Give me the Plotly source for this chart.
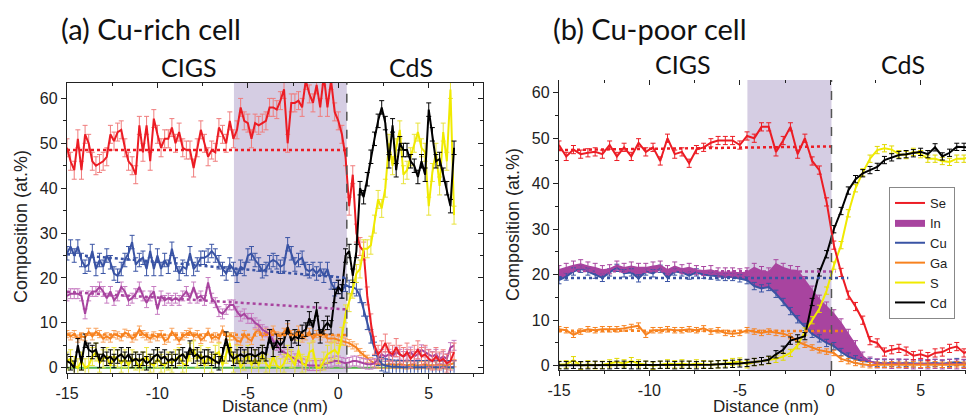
import numpy as np
import plotly.graph_objects as go

# ---------------- Panel (a): Cu-rich cell (0.2 nm steps, -15 .. 6.4 nm) ----------------
x_a = np.round(np.arange(108) * 0.2 - 15, 2)

se_a = [49, 46, 44, 51, 44, 52, 50, 46, 45, 45.5,
        46, 47, 52, 50.5, 52.5, 53, 49, 46, 45, 43,
        54, 48, 54, 46, 55.5, 52, 49, 51, 51, 53.5,
        50, 52.5, 49, 48.5, 48.5, 44.5, 49, 53, 50, 47,
        48.5, 48, 53.5, 52, 50, 55, 51, 53, 58, 55,
        54.5, 51, 54.5, 54, 54.5, 55, 58, 58, 57.5, 59.5,
        62, 50, 59, 59, 59.5, 58, 64, 61, 59, 63,
        58, 65, 58, 64, 57, 55, 52, 47, 36, 43,
        30, 27, 26, 16, 10, 5, 3, 4, 5.5, 3.5,
        3, 4.5, 3, 2.5, 3.5, 2, 3, 4, 2.5, 3,
        2, 1.5, 2.5, 1.5, 2, 1, 1.5, 3.5]

cu_a = [25.5, 27, 25, 27, 24, 22.5, 23, 26, 22, 24,
        22.5, 25, 23.5, 21, 20.5, 22, 24, 25.5, 28, 23,
        24, 24.5, 22, 26, 22, 25, 22, 24, 22.5, 26.5,
        23, 21, 22.5, 22, 25.5, 22, 23, 24.5, 24.5, 25,
        26, 25, 23.5, 22, 21, 23, 22, 20.5, 22.5, 22,
        25, 25.5, 24, 23, 21.5, 22, 23.5, 24, 23.5, 22.5,
        23, 27.5, 25.5, 23, 24, 24.5, 22, 21.5, 22, 21,
        22, 20.5, 22, 19, 17.5, 18, 17, 18.5, 18, 18,
        17.5, 16, 13, 10, 7, 4.2, 2, 0.8, 0.5, 0.3,
        0.2, 0.2, 0.1, 0.1, 0.1, 0.1, 0.1, 0.1, 0.1, 0.1,
        0.1, 0.1, 0.1, 0.1, 0.1, 0.1, 0.1, 0.1]

in_a = [16, 16.5, 16.5, 16.5, 16, 12, 16, 17, 17, 18,
        17, 15.5, 17, 15, 16, 18, 17, 15, 15.5, 16.5,
        18, 16, 14.5, 16, 17, 13, 16, 15, 15.5, 15,
        15.5, 15, 16, 17, 15.5, 18, 15.5, 16, 15, 19,
        15.5, 14.5, 12.5, 12, 13, 14, 14, 12.5, 11.5, 12,
        11, 11, 10, 9.5, 8.5, 8, 7.5, 6, 5, 4,
        3.5, 3, 2.5, 2, 1.5, 1, 0.7, 0.5, 0.5, 0.5,
        0.5, 0.8, 1, 1.2, 1.5, 1.5, 1.2, 1, 1.2, 1.5,
        1.5, 1.2, 1, 0.8, 0.8, 1, 2, 3, 2.5, 3,
        2.5, 3.5, 3, 2.5, 3, 3.5, 2.5, 3, 4, 3.5,
        3, 2.5, 3, 2, 2.5, 2, 4.5, 5]

ga_a = [7.5, 7, 7.5, 6.5, 7, 6.8, 8, 7, 8, 7.5,
        6.5, 7, 6.5, 7.5, 7.2, 6.8, 7.8, 7.5, 6.5, 7,
        8.5, 7.5, 7, 6.5, 7.2, 6.8, 7.5, 6, 6.5, 8,
        7, 6, 7, 7.5, 8, 7, 7.5, 6.2, 6.8, 8,
        6.5, 7, 6.5, 8.5, 7, 7, 7, 6, 5.8, 7.5,
        6.5, 6, 7.8, 8.5, 7, 8, 7.5, 8.5, 7.2, 7,
        8, 9, 7.5, 7, 8.5, 6.5, 7, 8, 6.5, 7.5,
        7, 7.5, 6.5, 6.5, 6.5, 6.2, 6, 5.8, 5.5, 5,
        4.5, 3.5, 2.8, 2, 1.5, 1, 0.7, 0.7, 0.6, 0.8,
        0.7, 0.6, 0.8, 0.6, 0.5, 0.7, 0.6, 0.5, 0.6, 0.7,
        0.5, 0.6, 0.5, 0.7, 0.6, 0.5, 0.8, 1]

s_a = [1.5, 2, 0.5, 0, 1.5, 0, 0.5, 2.5, 3.5, 1,
       2, 2.5, 0.5, 2.5, 2, 1, 2, 0.5, 2, 1.5,
       0, 1.5, 2.5, 1, 0.5, 2, 1, 0.5, 1.5, 1,
       2, 2.5, 1, 0.5, 3.5, 4, 2, 3, 0.5, 2.5,
       1, 3, 3.5, 0.5, 3, 5.5, 1, 3, 0, 1.5,
       3, 0.5, 2, 0.5, 3, 1, 0, 2.5, 0.5, 0,
       1, 3, 2, 0.5, 4, 1, 0.5, 3.5, 4, 0,
       0, 1.5, 3, 3.5, 4, 3, 7, 12, 14.5, 17.5,
       21, 22, 26.5, 26.5, 27.3, 32, 37.5, 35.5, 40, 50,
       45, 49, 53, 43, 44, 47, 50, 52.5, 49, 48,
       36, 43.5, 48, 40.5, 52.5, 46, 62, 34]

cd_a = [1.5, 1, 0, 5, 1, 6, 4, 3.5, 4, 1.5,
        3, 2, 2.5, 1.5, 2.5, 3, 2, 3, 1.5, 2,
        1.5, 2, 1, 1.5, 2.5, 3, 2, 2.5, 1.5, 2,
        1.5, 2.5, 3, 2, 4.5, 2.5, 3, 2, 2.5, 2.5,
        2, 1.5, 1, 3, 6.5, 3, 2, 2.5, 3, 2.5,
        3, 3, 2.5, 3, 3.5, 3, 7, 4, 6, 5,
        6, 9, 6, 7, 6.5, 8, 8.5, 11, 9, 13,
        7, 9, 10, 9, 16, 18, 17, 25, 26, 20.5,
        26, 40, 38, 42, 47, 51, 55, 58, 54.5, 46,
        54, 44, 50, 48.5, 48.5, 46, 45, 42.5, 46, 43,
        57.5, 52, 46, 46.5, 43, 40, 36, 49]

green_a_x = [-15, 6.4]
green_a_y = [0, 0]

# dotted fit lines (a)
fit_a_x = [-15, 0.47]
se_fit_a = [48.5, 48.5]
cu_fit_a = [25.3, 20.0]
in_fit_a = [16.9, 13.0]
ga_fit_a = [7.4, 7.3]

err_a = {"Se": 2.0, "Cu": 1.5, "In": 1.1, "Ga": 0.8, "S": 2.0, "Cd": 1.5}
shade_a = [-5.77, 0.47]
iface_a = 0.47

# ---------------- Panel (b): Cu-poor cell (0.4 nm steps, -15 .. 7.8 nm) ----------------
x_b = np.round(np.arange(58) * 0.4 - 15, 2)

se_b = [48.5, 46, 47.5, 46.5, 46.8, 47, 46.5, 48.5, 46, 48,
        46, 49, 47, 48, 45, 50, 46.5, 47, 44.5, 47.5,
        48, 49, 49.5, 49.5, 49.5, 48.5, 50.5, 50, 52.5, 52.5,
        47, 49.5, 52.5, 46.5, 50, 45, 43, 36, 26.5, 20.5,
        15.5, 13, 10, 5.5, 5, 3, 3.5, 3.8, 3.2, 2.2,
        2.5, 2, 2.8, 3, 3.8, 4.2, 2.8, 3.5]

cu_b = [18.8, 19.6, 20.7, 21.3, 20.7, 20, 19.3, 20.5, 21.5, 20.3,
        20.5, 19.2, 20.7, 20.3, 21.3, 19.3, 20.7, 20.5, 19.8, 20.5,
        20, 19.8, 19.6, 19.5, 19.5, 19.2, 18.8, 17.5, 17, 17.3,
        15.8, 14, 12, 10.2, 8.5, 7, 6, 5, 4.3, 3,
        2, 1.4, 1, 0.8, 0.6, 0.5, 0.6, 0.5, 0.6, 0.5,
        0.4, 0.5, 0.6, 0.4, 0.6, 0.8, 0.5, 0.5]

in_b = [21, 21.5, 22, 22.3, 21.8, 21.5, 21, 21.2, 22, 21.5,
        21.8, 21.5, 21.5, 21.8, 22, 21, 21.8, 21.2, 21.5, 21,
        20.8, 21, 20.5, 20.5, 20.5, 20.3, 20.5, 21.5, 20.8, 20.5,
        22.3, 21.5, 21, 20.8, 18.6, 16.5, 14.5, 13, 11.3, 9.3,
        7, 4.5, 2, 0.9, 0.5, 0.5, 0.4, 0.5, 0.4, 0.3,
        0.4, 0.3, 0.4, 0.3, 0.4, 0.3, 0.4, 0.3]

ga_b = [8, 7.8, 6.8, 7.5, 8, 7.8, 8, 8, 8, 8.2,
        8.5, 8.8, 6.8, 7.8, 7.8, 8, 7.8, 7.8, 8, 7.8,
        8.2, 7.5, 7.8, 7.2, 7, 7.2, 7.8, 7.5, 7.2, 7.5,
        7.2, 7, 6.5, 5.3, 4.6, 4, 3.4, 3.1, 2.8, 1.5,
        1.0, 0.6, 0.3, 0.1, 0.2, 0.2, 0.3, 0.2, 0.2, 0.3,
        0.2, 0.2, 0.3, 0.2, 0.2, 0.3, 0.2, 0.2]

s_b = [0.2, 0.3, 1.2, 0, 0.3, 0.1, 0.2, 0.5, 0.8, 0.5,
       1, 0.5, 0.2, 0, 0.2, 0.5, 0.3, 0.5, 0.2, 0.5,
       0.3, 0.2, 0.3, 0.5, 0.8, 0.9, 0.3, 0.8, 1, 1.2,
       1.5, 2, 2.8, 4.5, 7.5, 10, 12.5, 16.5, 22, 26.5,
       33.5, 39, 42.5, 45.5, 47.4, 47.8, 47.5, 46.5, 46.3, 47,
       46.5, 45.5, 45.5, 45, 44.8, 45.5, 45.5, 46]

cd_b = [0.1, 0.1, 0.2, 0.1, 0.1, 0.2, 0.1, 0.1, 0.2, 0.2,
        0.1, 0.1, 0.2, 0.1, 0.2, 0.2, 0.1, 0.2, 0.2, 0.1,
        0.2, 0.2, 0.3, 0.3, 0.4, 0.5, 0.6, 0.8, 1, 1.3,
        2.5, 3.5, 5.5, 6, 6.5, 14, 20.5, 24.5, 30, 34,
        38.5, 41, 42.3, 43, 43.7, 45.2, 45.8, 46.3, 46.5, 46.7,
        47, 46.5, 48, 46, 46.8, 48.1, 48.1, 48]

# dotted fit lines (b)
se_fit_b_x = [-15, 0.1]
se_fit_b = [47.4, 48.2]
in_fit_b_x = [-15, 0.3]
in_fit_b = [20.8, 20.7]
cu_fit_b_x = [-15, 1.0]
cu_fit_b = [19.3, 19.3]
ga_fit_b_x = [-15, 0.7]
ga_fit_b = [7.7, 7.6]

err_b = {"Se": 0.9, "Cu": 0.8, "In": 1.0, "Ga": 0.6, "S": 0.8, "Cd": 0.8}
shade_b = [-4.58, 0.07]
iface_b = 0.07

# tick labels
x_tickvals = [-15, -10, -5, 0, 5]
x_ticktext = ["-15", "-10", "-5", "0", "5"]
x_minor = [-12.5, -7.5, -2.5, 2.5, 7.5]
y_tickvals = [0, 10, 20, 30, 40, 50, 60]
y_ticktext = ["0", "10", "20", "30", "40", "50", "60"]
y_minor = [5, 15, 25, 35, 45, 55]

# ---------------- styles ----------------
C = {"Se": "#ec1c24", "In": "#a8449f", "Cu": "#3953a4", "Ga": "#f7821f",
     "S": "#f0ea00", "Cd": "#000000", "green": "#52b848"}
EC_A = {"Se": "#f07c7c", "In": "#c77dc2", "Cu": "#3953a4", "Ga": "#f9a35e",
        "S": "#e8e23a", "Cd": "#000000"}
SHADE = "#d5cde3"
TICKFONT = dict(family="Liberation Sans, Arial, sans-serif", size=16, color="#222")
LABFONT = dict(family="Liberation Sans, Arial, sans-serif", size=18, color="#222")
XLABFONT = dict(family="Liberation Sans, Arial, sans-serif", size=17, color="#222")
TITLEFONT = dict(family="Lato, Calibri, sans-serif", size=29, color="#111")
SUBFONT = dict(family="Lato, Calibri, sans-serif", size=25, color="#111")

fig = go.Figure()


def add_series(x, y, name, xa, ya, err, ecolor, showlegend=False, rank=None, fill=None):
    fig.add_trace(go.Scatter(
        x=x, y=y, name=name, mode="lines", xaxis=xa, yaxis=ya,
        line=dict(color=C[name], width=2),
        error_y=dict(type="constant", value=err, color=ecolor, thickness=1, width=2.5),
        showlegend=showlegend, legendrank=rank,
        fill=fill, fillcolor=C["In"] if fill else None,
    ))


def add_fit(x, y, color, xa, ya):
    fig.add_trace(go.Scatter(x=x, y=y, mode="lines", xaxis=xa, yaxis=ya,
                             line=dict(color=color, width=2.5, dash="dot"),
                             showlegend=False, hoverinfo="skip"))


# panel a
fig.add_trace(go.Scatter(x=green_a_x, y=green_a_y, mode="lines", xaxis="x", yaxis="y",
                         line=dict(color=C["green"], width=2), showlegend=False))
add_series(x_a, ga_a, "Ga", "x", "y", err_a["Ga"], EC_A["Ga"])
add_series(x_a, in_a, "In", "x", "y", err_a["In"], EC_A["In"])
add_series(x_a, cu_a, "Cu", "x", "y", err_a["Cu"], EC_A["Cu"])
add_series(x_a, se_a, "Se", "x", "y", err_a["Se"], EC_A["Se"])
add_series(x_a, s_a, "S", "x", "y", err_a["S"], EC_A["S"])
add_series(x_a, cd_a, "Cd", "x", "y", err_a["Cd"], EC_A["Cd"])
add_fit(fit_a_x, se_fit_a, C["Se"], "x", "y")
add_fit(fit_a_x, cu_fit_a, C["Cu"], "x", "y")
add_fit(fit_a_x, in_fit_a, C["In"], "x", "y")
add_fit(fit_a_x, ga_fit_a, C["Ga"], "x", "y")

# panel b
add_series(x_b, cu_b, "Cu", "x2", "y2", err_b["Cu"], C["Cu"], True, 3)
add_series(x_b, in_b, "In", "x2", "y2", err_b["In"], C["In"], True, 2, fill="tonexty")
add_series(x_b, ga_b, "Ga", "x2", "y2", err_b["Ga"], C["Ga"], True, 4)
add_series(x_b, s_b, "S", "x2", "y2", err_b["S"], "#e0d800", True, 5)
add_series(x_b, cd_b, "Cd", "x2", "y2", err_b["Cd"], C["Cd"], True, 6)
add_series(x_b, se_b, "Se", "x2", "y2", err_b["Se"], C["Se"], True, 1)
add_fit(se_fit_b_x, se_fit_b, C["Se"], "x2", "y2")
add_fit(in_fit_b_x, in_fit_b, C["In"], "x2", "y2")
add_fit(cu_fit_b_x, cu_fit_b, C["Cu"], "x2", "y2")
add_fit(ga_fit_b_x, ga_fit_b, C["Ga"], "x2", "y2")

W, H = 966, 417


def px(xp):
    return xp / W


def py(yp):
    return (H - yp) / H


xa_common = dict(tickmode="array", tickvals=x_tickvals, ticktext=x_ticktext,
                 ticks="outside", ticklen=5, tickwidth=1.2, automargin=False,
                 ticklabelstandoff=1,
                 tickcolor="#222", showline=True, linecolor="#222", linewidth=1.3,
                 showgrid=False, zeroline=False, tickfont=TICKFONT,
                 minor=dict(tickvals=x_minor, ticks="outside", ticklen=3, tickcolor="#222"))
ya_common = dict(tickmode="array", tickvals=y_tickvals, ticktext=y_ticktext,
                 ticks="outside", ticklen=5, tickwidth=1.2, automargin=False,
                 tickcolor="#222", showline=True, linecolor="#222", linewidth=1.3,
                 showgrid=False, zeroline=False, tickfont=TICKFONT,
                 minor=dict(tickvals=y_minor, ticks="outside", ticklen=3, tickcolor="#222"))
inner = dict(tickmode="array", ticks="inside", ticklen=5, tickwidth=1.2, tickcolor="#222",
             showticklabels=False, showgrid=False, zeroline=False, showline=False,
             automargin=False)

xr_a = [-15, 8.0]
yr_a = [-1.1, 63.5]
xr_b = [-15, 7.51]
yr_b = [-0.95, 62.8]

fig.update_layout(
    width=W, height=H, margin=dict(l=0, r=0, t=0, b=0, autoexpand=False),
    paper_bgcolor="white", plot_bgcolor="white",
    xaxis=dict(domain=[px(67), px(483)], range=xr_a, anchor="y", mirror=True, **xa_common),
    yaxis=dict(domain=[py(372.7), py(82.7)], range=yr_a, anchor="x", mirror=True, **ya_common),
    xaxis2=dict(domain=[px(559), 1.0], range=xr_b, anchor="y2", **xa_common),
    yaxis2=dict(domain=[py(370), py(80)], range=yr_b, anchor="x2", **ya_common),
    xaxis3=dict(overlaying="x", side="top", anchor="y", range=xr_a, tickvals=x_tickvals,
                minor=dict(tickvals=x_minor, ticks="inside", ticklen=3, tickcolor="#222"), **inner),
    yaxis3=dict(overlaying="y", side="right", anchor="x", range=yr_a, tickvals=y_tickvals,
                minor=dict(tickvals=y_minor, ticks="inside", ticklen=3, tickcolor="#222"), **inner),
    xaxis4=dict(overlaying="x2", side="top", anchor="y2", range=xr_b, tickvals=x_tickvals,
                minor=dict(tickvals=x_minor, ticks="inside", ticklen=3, tickcolor="#222"), **inner),
    showlegend=True,
    legend=dict(x=px(889), y=py(187), xanchor="left", yanchor="top", traceorder="normal",
                bgcolor="white", bordercolor="#888", borderwidth=1,
                font=dict(family="Liberation Sans, Arial, sans-serif", size=13, color="#222"),
                tracegroupgap=0, itemwidth=30),
)

# invisible traces so overlay axes are drawn
fig.add_trace(go.Scatter(x=[None], y=[None], xaxis="x3", yaxis="y", showlegend=False))
fig.add_trace(go.Scatter(x=[None], y=[None], xaxis="x", yaxis="y3", showlegend=False))
fig.add_trace(go.Scatter(x=[None], y=[None], xaxis="x4", yaxis="y2", showlegend=False))

shapes = [
    dict(type="rect", xref="x", yref="y domain", x0=shade_a[0], x1=shade_a[1], y0=0, y1=1,
         fillcolor=SHADE, line=dict(width=0), layer="below"),
    dict(type="rect", xref="x2", yref="y2 domain", x0=shade_b[0], x1=shade_b[1], y0=0, y1=1,
         fillcolor=SHADE, line=dict(width=0), layer="below"),
    dict(type="line", xref="x", yref="y domain", x0=iface_a, x1=iface_a, y0=0, y1=1,
         line=dict(color="#555", width=1.5, dash="dash")),
    dict(type="line", xref="x2", yref="y2 domain", x0=iface_b, x1=iface_b, y0=0, y1=1,
         line=dict(color="#555", width=1.5, dash="dash")),
]
fig.update_layout(shapes=shapes)

ann = [
    dict(text="(a) Cu-rich cell", x=px(151), y=py(28), font=TITLEFONT),
    dict(text="CIGS", x=px(189), y=py(67), font=SUBFONT),
    dict(text="CdS", x=px(411), y=py(67), font=SUBFONT),
    dict(text="(b) Cu-poor cell", x=px(650), y=py(28), font=TITLEFONT),
    dict(text="CIGS", x=px(683), y=py(64), font=SUBFONT),
    dict(text="CdS", x=px(903), y=py(64), font=SUBFONT),
    dict(text="Composition (at.%)", x=px(21), y=py(227), textangle=-90, font=LABFONT),
    dict(text="Composition (at.%)", x=px(513), y=py(225), textangle=-90, font=LABFONT),
    dict(text="Distance (nm)", x=px(275), y=py(406.5), font=XLABFONT),
    dict(text="Distance (nm)", x=px(766), y=py(406), font=XLABFONT),
]
for a in ann:
    a.update(xref="paper", yref="paper", xanchor="center", yanchor="middle", showarrow=False)
fig.update_layout(annotations=ann)

fig.write_html("out.html", config={"displayModeBar": False},
               post_script="document.body.style.margin='0';document.body.style.padding='0';")
